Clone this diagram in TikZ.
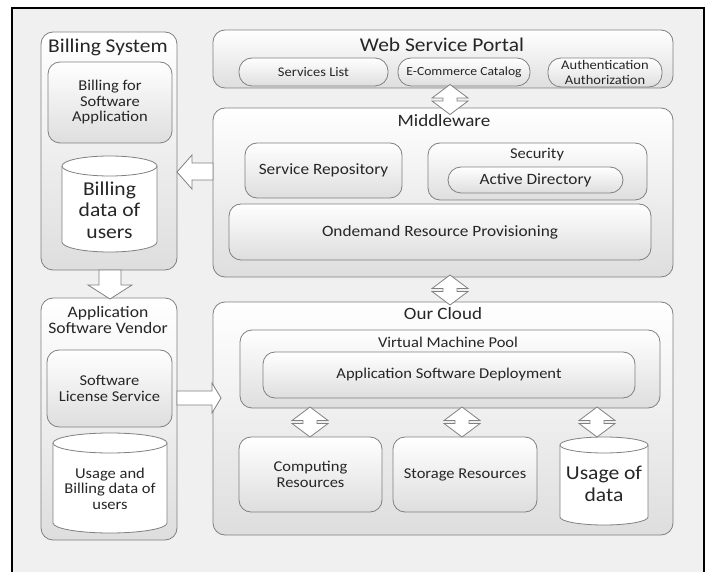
\documentclass[tikz,border=0pt]{standalone}
\usepackage{fontspec}
\setmainfont[FakeStretch=1.1]{Carlito}
\newcommand\ftitleA{\fontsize{19.5}{20}\selectfont}
\newcommand\ftitleB{\fontsize{17.3}{20}\selectfont}
\newcommand\fvendor{\fontsize{16}{16}\selectfont}
\newcommand\fmid{\fontsize{15}{15.5}\selectfont}
\newcommand\fmidL{\fontsize{15.7}{16}\selectfont}
\newcommand\fsmall{\fontsize{13.2}{15}\selectfont}
\newcommand\fsmaller{\fontsize{12.4}{15}\selectfont}
\newcommand\fbig{\fontsize{19.6}{21.5}\selectfont}
\tikzset{
  box/.style={draw=black!50, line width=0.8pt, rounded corners=12pt, top color=white, bottom color=black!13, inner sep=0pt},
  pill/.style={box, rounded corners=13pt},
  cylst/.style={draw=black!50, line width=0.8pt, fill=white},
  blk/.style={draw=black!50, line width=0.8pt, fill=white, line join=miter},
  txt/.style={align=center, inner sep=0pt, text=black!85},
  updown/.pic={\draw[blk] (0,-15) -- (18,-1.5) -- (7,-1.5) -- (7,1.5) -- (18,1.5) -- (0,15) -- (-18,1.5) -- (-7,1.5) -- (-7,-1.5) -- (-18,-1.5) -- cycle;}
}
\begin{document}
\begin{tikzpicture}[x=1pt,y=-1pt]
\useasboundingbox (0,0) rectangle (713,572);
\fill[white] (0,0) rectangle (713,572);
\fill[black!6] (12,8) rectangle (704,572);
\draw[line width=2pt] (12,572) -- (12,8) -- (704,8) -- (704,572);

% Billing System
\node[box, minimum width=136pt, minimum height=238pt] (bs) at (109,151) {};
\node[txt, font=\ftitleA] (bst) at (108,47) {Billing System};
\node[box, minimum width=124pt, minimum height=81pt] (bfs) at (110,102.5) {};
\node[txt, font=\fmid] (bfst) at (110,102.5) {Billing for\\Software\\Application};
\draw[cylst] (62,166) -- (62,242) arc(180:360:47.5pt and 10pt) -- (157,166) arc(0:180:47.5pt and 10pt) -- cycle;
\draw[cylst] (62,166) arc(180:360:47.5pt and 10pt);
\node[txt, font=\fbig] (bdu) at (109.5,210) {Billing\\data of\\users};

% Web Service Portal
\node[box, minimum width=460pt, minimum height=58pt] (wsp) at (443,59) {};
\node[txt, font=\ftitleA] (wspt) at (442,45) {Web Service Portal};
\node[pill, minimum width=149pt, minimum height=28pt, font=\fsmall, txt] (sl) at (313.5,72) {Services List};
\node[pill, minimum width=132pt, minimum height=28pt, font=\fsmaller, txt] (ecc) at (464,72) {E-Commerce Catalog};
\node[pill, minimum width=114pt, minimum height=29pt, font=\fsmall, txt] (aa) at (605,72.5) {Authentication\\Authorization};

% Middleware
\node[box, minimum width=460pt, minimum height=169pt] (mw) at (443,192.5) {};
\node[txt, font=\ftitleB] (mwt) at (444,121) {Middleware};
\node[box, minimum width=157pt, minimum height=55pt, txt, font=\fmidL] (sr) at (323.5,170.5) {Service Repository};
\node[box, minimum width=219pt, minimum height=57pt] (sec) at (537.5,171.5) {};
\node[txt, font=\fmid] (sect) at (537,155) {Security};
\node[pill, minimum width=175pt, minimum height=26pt, txt, font=\fmidL] (ad) at (535.5,180) {Active Directory};
\node[box, minimum width=422pt, minimum height=56pt, txt, font=\fmidL] (orp) at (440,232) {Ondemand Resource Provisioning};

% Our Cloud
\node[box, minimum width=460pt, minimum height=233pt] (oc) at (443,418.5) {};
\node[txt, font=\ftitleB] (oct) at (443,314) {Our Cloud};
\node[box, minimum width=420pt, minimum height=78pt] (vmp) at (450,369) {};
\node[txt, font=\fmid] (vmpt) at (448,342) {Virtual Machine Pool};
\node[box, minimum width=372pt, minimum height=46pt, txt, font=\fmid] (asd) at (449,375) {Application Software Deployment};
\node[box, minimum width=143pt, minimum height=75pt, txt, font=\fmid] (cr) at (310.5,474.5) {Computing\\Resources};
\node[box, minimum width=144pt, minimum height=75pt, txt, font=\fmid] (st) at (465,474.5) {Storage Resources};
\draw[cylst] (560,445) -- (560,517) arc(180:360:44pt and 8pt) -- (648,445) arc(0:180:44pt and 8pt) -- cycle;
\draw[cylst] (560,445) arc(180:360:44pt and 8pt);
\node[txt, font=\fbig] (uod) at (604,484) {Usage of\\data};

% Application Software Vendor
\node[box, minimum width=136pt, minimum height=242pt] (asv) at (109,419) {};
\node[txt, font=\fvendor] (asvt) at (108,320) {Application\\Software Vendor};
\node[box, minimum width=125pt, minimum height=77pt, txt, font=\fmid] (sls) at (109.5,388.5) {Software\\License Service};
\draw[cylst] (53,443) -- (53,523) arc(180:360:57pt and 10pt) -- (167,443) arc(0:180:57pt and 10pt) -- cycle;
\draw[cylst] (53,443) arc(180:360:57pt and 10pt);
\node[txt, font=\fmid] (ubd) at (110,488.5) {Usage and\\Billing data of\\users};

% block arrows
\draw[blk] (213,163) -- (192,163) -- (192,155) -- (177,172) -- (192,189) -- (192,180) -- (213,180) -- cycle;
\draw[blk] (99,270) -- (99,285) -- (88,285) -- (110,299) -- (132,285) -- (121,285) -- (121,270) -- cycle;
\draw[blk] (177,391) -- (212,391) -- (212,383) -- (221,398) -- (212,413) -- (212,405) -- (177,405) -- cycle;

% up-down arrows
\pic at (450,99.5) {updown};
\pic at (450,290) {updown};
\pic at (310,422) {updown};
\pic at (462,422) {updown};
\pic at (597,422) {updown};
\end{tikzpicture}
\end{document}
